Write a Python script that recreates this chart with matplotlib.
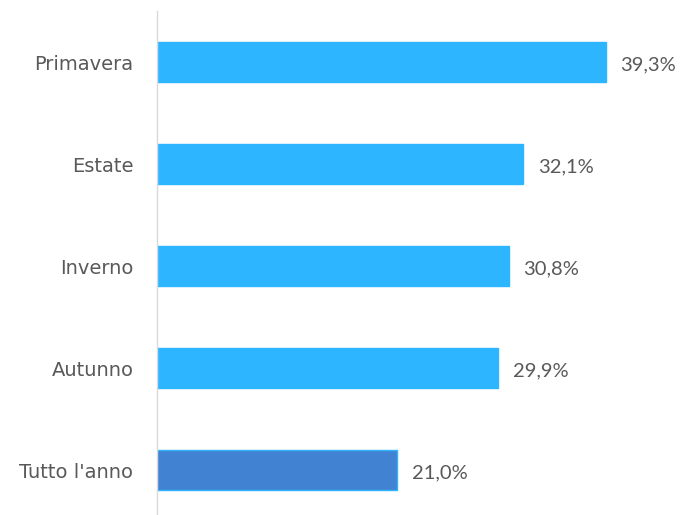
import matplotlib.pyplot as plt

# data
categories = ["Primavera", "Estate", "Inverno", "Autunno", "Tutto l'anno"]
values = [39.3, 32.1, 30.8, 29.9, 21.0]
labels = ["39,3%", "32,1%", "30,8%", "29,9%", "21,0%"]
colors = ["#2EB5FF", "#2EB5FF", "#2EB5FF", "#2EB5FF", "#4282D3"]

plt.rcParams["font.family"] = ["DejaVu Sans"]

fig = plt.figure(figsize=(6.81, 5.15), dpi=100)
ax = fig.add_axes([157 / 681, 0.0, 1 - 157 / 681, 1 - 11 / 515])

pos = list(range(len(categories)))
ax.barh(pos, values, height=0.39, color=colors, edgecolor="#2EB5FF", linewidth=1)

for p, v, lab in zip(pos, values, labels):
    ax.text(v + 1.3, p + 0.03, lab, va="center", ha="left", fontsize=14.5,
            color="#595959", family="Lato")

ax.set_xlim(0, 45.9)
ax.set_ylim(4.44, -0.5)
ax.set_yticks(pos)
ax.set_yticklabels(categories, fontsize=14, color="#595959")
ax.tick_params(axis="y", length=0, pad=17)
ax.set_xticks([])

for s in ["top", "right", "bottom"]:
    ax.spines[s].set_visible(False)
ax.spines["left"].set_color("#D9D9D9")
ax.spines["left"].set_linewidth(1)

fig.savefig("out.png", dpi=100)
